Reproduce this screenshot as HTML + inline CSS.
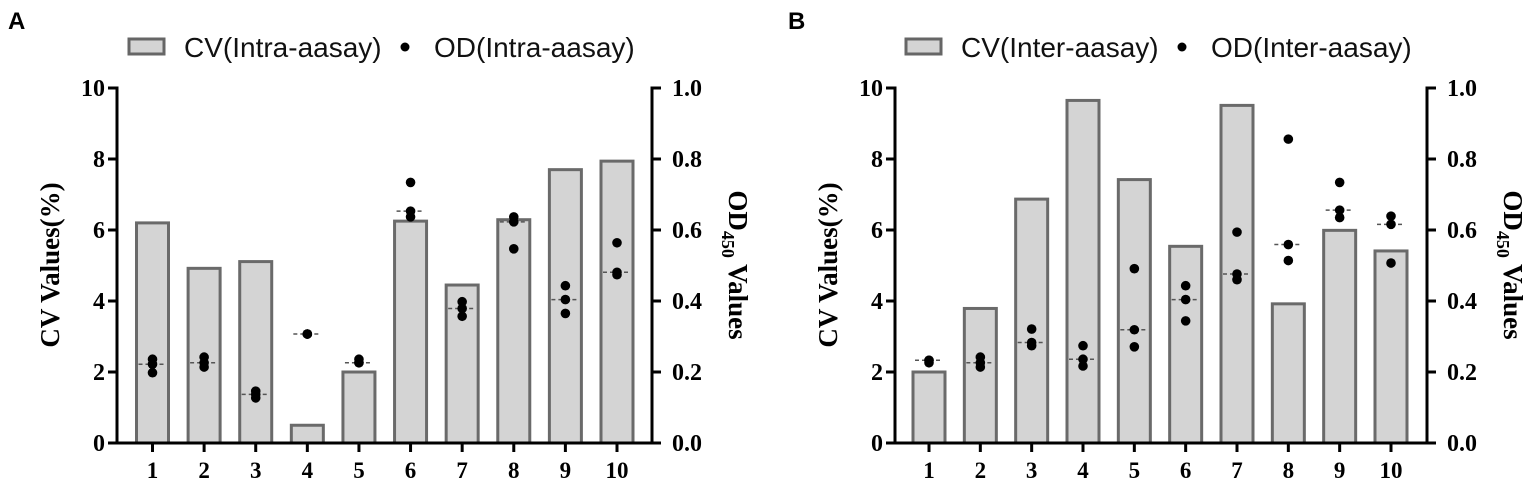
<!DOCTYPE html>
<html><head><meta charset="utf-8"><style>
body{margin:0;background:#fff;}
svg{display:block;font-family:"Liberation Serif",serif;}
</style></head><body>
<svg id="chart" width="1535" height="491" viewBox="0 0 1535 491" xmlns="http://www.w3.org/2000/svg"></svg>
<script>
const categories = ["1","2","3","4","5","6","7","8","9","10"];
const cvIntra = [6.2,4.92,5.11,0.5,2.0,6.25,4.45,6.29,7.7,7.94];
const odIntra = [[0.236,0.222,0.198],[0.242,0.226,0.214],[0.146,0.137,0.127],[0.307,0.307,0.307],[0.236,0.226,0.226],[0.734,0.653,0.637],[0.398,0.379,0.357],[0.637,0.623,0.547],[0.443,0.404,0.365],[0.564,0.481,0.474]];
const cvInter = [2.0,3.79,6.87,9.65,7.42,5.54,9.51,3.92,5.99,5.41];
const odInter = [[0.233,0.226,0.233],[0.242,0.226,0.214],[0.321,0.283,0.274],[0.274,0.236,0.217],[0.491,0.319,0.271],[0.443,0.404,0.344],[0.594,0.476,0.460],[0.856,0.559,0.514],[0.734,0.656,0.635],[0.639,0.616,0.507]];
const cvTicks = [0,2,4,6,8,10];
const odTicks = ["0.0","0.2","0.4","0.6","0.8","1.0"];

const NS="http://www.w3.org/2000/svg";
const svg=document.getElementById('chart');
function mk(tag,attrs,parent,text){const e=document.createElementNS(NS,tag);for(const k in attrs)e.setAttribute(k,attrs[k]);if(text!==undefined)e.textContent=text;(parent||svg).appendChild(e);return e;}
function median(a){const s=a.slice().sort((x,y)=>x-y);const n=s.length;return n%2?s[(n-1)/2]:(s[n/2-1]+s[n/2])/2;}

function panel(cfg){
  const g=mk('g',{});
  
  
  const y0=443,y1=88,L=cfg.left,R=cfg.right;
  const yCV=v=>y0-(v/10)*(y0-y1);
  const yOD=v=>y0-v*(y0-y1);
  const step=(cfg.last-cfg.first)/9;
  const xC=i=>cfg.first+i*step;
  const pl=mk('text',{x:cfg.letterX,y:29,'font-family':'Liberation Sans, sans-serif','font-weight':'bold','font-size':24},g,cfg.letter);
  
  const lg=mk('g',{},g);
  
  const lr=mk('rect',{x:cfg.legX,y:39,width:35,height:15,fill:'#d4d4d4',stroke:'#666','stroke-width':3},lg);
  
  const lt1=mk('text',{x:cfg.legX+55,y:57,'font-family':'Liberation Sans, sans-serif','font-size':28,fill:'#111'},lg,cfg.cvLabel);
  
  const ld=mk('circle',{cx:cfg.legX+276,cy:47,r:4.5,fill:'#000'},lg);
  
  const lt2=mk('text',{x:cfg.legX+305,y:57,'font-family':'Liberation Sans, sans-serif','font-size':28,fill:'#111'},lg,cfg.odLabel);
  
  cfg.cv.forEach((v,i)=>{
    const b=mk('rect',{x:xC(i)-16,y:yCV(v),width:32,height:y0-yCV(v),fill:'#d4d4d4',stroke:'#6a6a6a','stroke-width':3},g);
    
    
  });
  cfg.od.forEach((arr,i)=>{
    const m=median(arr);
    const ml=mk('line',{x1:xC(i)-14,x2:xC(i)+14,y1:yOD(m),y2:yOD(m),stroke:'#555','stroke-width':1.5,'stroke-dasharray':'4,3'},g);
    
    
    arr.forEach(v=>{
      const c=mk('circle',{cx:xC(i),cy:yOD(v),r:4.8,fill:'#000'},g);
      
      
    });
  });
  const ax=mk('path',{d:`M${L-9},${y1}H${L}V${y0}H${R}V${y1}H${R+9}`,fill:'none',stroke:'#000','stroke-width':3},g);
  
  cvTicks.forEach(t=>{
    mk('line',{x1:L-9,x2:L,y1:yCV(t),y2:yCV(t),stroke:'#000','stroke-width':3},g);
    const tl=mk('text',{x:L-12,y:yCV(t)+8,'text-anchor':'end','font-weight':'bold','font-size':24},g,String(t));
    
  });
  odTicks.forEach(t=>{
    const y=yOD(parseFloat(t));
    mk('line',{x1:R,x2:R+9,y1:y,y2:y,stroke:'#000','stroke-width':3},g);
    const tl=mk('text',{x:R+20,y:y+8,'font-weight':'bold','font-size':24},g,t);
    
  });
  categories.forEach((c,i)=>{
    mk('line',{x1:xC(i),x2:xC(i),y1:y0,y2:y0+9,stroke:'#000','stroke-width':3},g);
    const tl=mk('text',{x:xC(i),y:478,'text-anchor':'middle','font-weight':'bold','font-size':23},g,c);
    
  });
  const yt=mk('text',{transform:`translate(${L-58},265) rotate(-90)`,'text-anchor':'middle','font-weight':'bold','font-size':27},g,'CV Values(%)');
  
  const rt=mk('text',{transform:`translate(${R+77},265) rotate(90)`,'text-anchor':'middle','font-weight':'bold','font-size':27},g);
  
  mk('tspan',{},rt,'OD');
  mk('tspan',{dy:7,'font-size':18},rt,'450');
  mk('tspan',{dy:-7},rt,' Values');
}
panel({name:'panel-a-intra-assay',letter:'A',letterX:8,legX:129,cvLabel:'CV(Intra-aasay)',odLabel:'OD(Intra-aasay)',cv:cvIntra,od:odIntra,left:117,right:652,first:152.5,last:617});
panel({name:'panel-b-inter-assay',letter:'B',letterX:788,legX:906,cvLabel:'CV(Inter-aasay)',odLabel:'OD(Inter-aasay)',cv:cvInter,od:odInter,left:895,right:1427,first:929,last:1391});
</script>
</body></html>
